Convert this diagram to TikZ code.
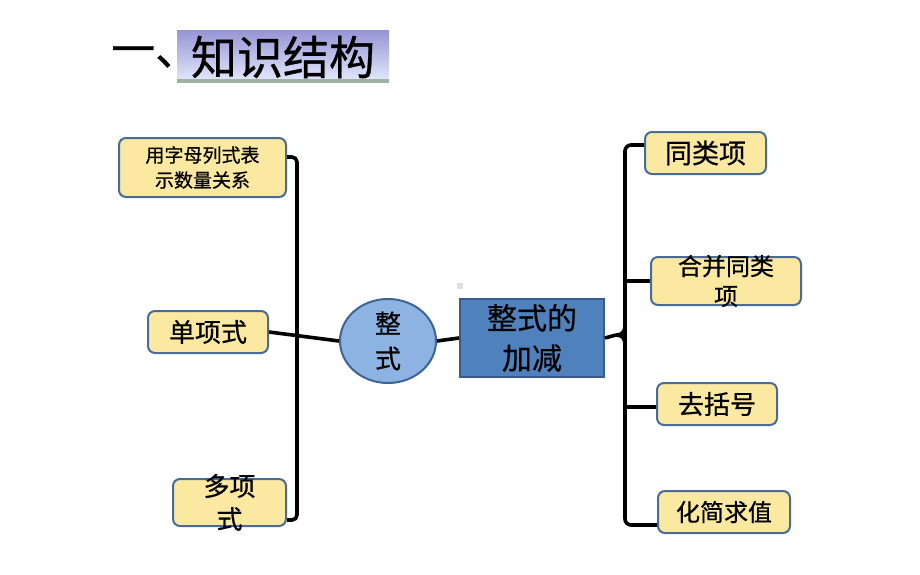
\documentclass[tikz,border=0pt]{standalone}
\usepackage{fontspec}
\setmainfont{Noto Sans CJK SC}[FakeBold=0.6]
\usetikzlibrary{shapes.geometric}
\definecolor{boxfill}{HTML}{FBE9A2}
\definecolor{boxline}{HTML}{4A6B96}
\definecolor{ellfill}{HTML}{8DB3E2}
\definecolor{ellline}{HTML}{3D6594}
\definecolor{rectfill}{HTML}{4F81BD}
\definecolor{rectline}{HTML}{385D8A}
\definecolor{titletop}{HTML}{9696D6}
\definecolor{titlebot}{HTML}{E0E7FA}
\definecolor{titlestrip}{HTML}{9FB1A2}
\tikzset{
  ybox/.style={draw=boxline, fill=boxfill, line width=2pt, rounded corners=7pt, inner sep=0pt, align=center},
  txt/.style={inner sep=0pt, align=center},
  conn/.style={line width=3.6pt, black},
}
\begin{document}
\begin{tikzpicture}[x=1pt,y=-1pt]
\useasboundingbox (0,0) rectangle (920,575);
% title
\shade[top color=titletop, bottom color=titlebot] (177,31) rectangle (389,80);
\fill[titlestrip] (177,79) rectangle (389,83);
\node[anchor=west, inner sep=0pt, font=\fontsize{44}{48}\selectfont] (T1) at (111,57) {一、};
\node[inner sep=0pt, font=\fontsize{46}{50}\selectfont] (T2) at (283,57) {知识结构};
% tiny mark
\fill[gray!25] (457,283) rectangle (463,289);
% left boxes
\node[ybox, minimum width=167pt, minimum height=59pt] (L1) at (202.5,167.5) {};
\node[txt, font=\fontsize{19}{25}\selectfont] (L1t) at (L1) {用字母列式表\\示数量关系};
\node[ybox, minimum width=120pt, minimum height=42pt, font=\fontsize{26}{30}\selectfont] (L2) at (208,332) {单项式};
\node[ybox, minimum width=113pt, minimum height=47pt] (L3) at (229.5,502.5) {};
\node[txt, font=\fontsize{26}{33}\selectfont] (L3t) at (229.5,502.5) {多项\\式};
% center
\node[ellipse, draw=ellline, fill=ellfill, line width=2pt, minimum width=96pt, minimum height=84pt, inner sep=0pt] (E) at (388,341) {};
\node[txt, font=\fontsize{26}{35}\selectfont] (Et) at (E) {整\\式};
\node[draw=rectline, fill=rectfill, line width=2pt, minimum width=144pt, minimum height=78pt, inner sep=0pt] (M) at (532,338) {};
\node[txt, font=\fontsize{30}{40}\selectfont] (Mt) at (M) {整式的\\加减};
% right boxes
\node[ybox, minimum width=121pt, minimum height=42pt, font=\fontsize{27}{30}\selectfont] (R1) at (705.5,153) {同类项};
\node[ybox, minimum width=150pt, minimum height=48pt] (R2) at (726,281) {};
\node[txt, font=\fontsize{24}{30}\selectfont] (R2t) at (R2) {合并同类\\项};
\node[ybox, minimum width=120pt, minimum height=42pt, font=\fontsize{26}{30}\selectfont] (R3) at (717,404) {去括号};
\node[ybox, minimum width=132pt, minimum height=42pt, font=\fontsize{24}{30}\selectfont] (R4) at (724,512) {化简求值};
% left bracket
\coordinate (lt) at (297,157);
\coordinate (lb) at (297,520);
\draw[conn, rounded corners=5pt] (L1.east |- lt) -- (lt) -- (lb) -- (L3.east |- lb);
\draw[conn] (L2.east) -- (E.west);
\draw[conn] (E.east) -- (M.west);
% right brace
\coordinate (bp) at (616,335);
\draw[conn] (M.east) -- (bp);
\draw[conn] (bp) .. controls (622,335) and (625,332) .. (625,325);
\draw[conn] (bp) .. controls (622,335) and (625,338) .. (625,345);
\coordinate (rt) at (625,145);
\coordinate (rb) at (625,525);
\draw[conn, rounded corners=6pt] (R1.west |- rt) -- (rt) -- (rb) -- (R4.west |- rb);
\draw[conn] (625,281) -- (R2.west);
\draw[conn] (625,407) -- (R3.west |- 0,407);
\end{tikzpicture}
\end{document}
